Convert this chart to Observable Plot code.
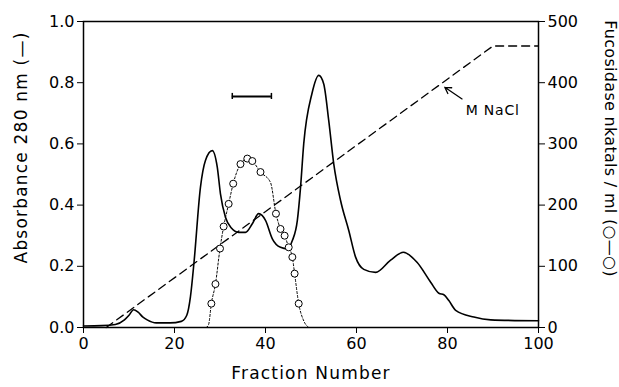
<!DOCTYPE html>
<html>
<head>
<meta charset="utf-8">
<script src="https://cdn.jsdelivr.net/npm/d3@7"></script>
<script src="https://cdn.jsdelivr.net/npm/@observablehq/plot@0.6"></script>
<style>
  body { margin: 0; background: #fff; }
</style>
</head>
<body>
<div id="chart"></div>
<script>
// Absorbance at 280 nm (left axis)
const fractions = [0, 4, 7, 9, 10, 11, 12, 13, 14, 16, 19, 21.5, 22.7, 23.5, 24.3, 25.7, 26.8, 28.3, 29.4, 30.1, 31.2, 32.5, 34.1, 35.6, 37.1, 38.5, 40, 41.5, 43.3, 44.8, 45.9, 47, 47.7, 48.4, 50.2, 51.7, 52.8, 53.9, 55, 56.5, 58.3, 59.8, 61.6, 64.2, 67.5, 70.3, 73.3, 76.3, 78.1, 79.2, 80.3, 81.8, 85.8, 89.5, 100];
const absorbance = [0.005, 0.006, 0.01, 0.025, 0.04, 0.058, 0.05, 0.035, 0.025, 0.015, 0.015, 0.02, 0.04, 0.1, 0.215, 0.458, 0.546, 0.578, 0.524, 0.437, 0.36, 0.325, 0.311, 0.311, 0.339, 0.372, 0.35, 0.29, 0.262, 0.257, 0.284, 0.35, 0.458, 0.6, 0.764, 0.824, 0.796, 0.676, 0.535, 0.415, 0.317, 0.23, 0.19, 0.18, 0.22, 0.246, 0.213, 0.148, 0.112, 0.107, 0.088, 0.056, 0.034, 0.025, 0.022];

// Fucosidase activity, nkatals/ml (right axis)
const fucFractions = [27, 27.5, 28.1, 29, 30, 30.8, 31.9, 32.9, 34.5, 36, 37.1, 38.9, 41.1, 42.3, 43.3, 44.2, 45.1, 45.9, 46.4, 47.3, 48.4, 49.5];
const fucosidase = [0, 5, 39, 71, 129, 165, 202, 235, 267, 276, 272, 254, 237, 186, 161, 150, 131, 115, 88, 39, 11, 0];
const fucCircleIdx = [2, 3, 4, 5, 6, 7, 8, 9, 10, 11, 13, 14, 15, 16, 17, 18, 19];

// NaCl gradient (dashed), in left-axis units
const naclFractions = [5, 90, 100];
const naclLevel = [0, 0.92, 0.92];

// Pooled fractions bar
const poolFractions = [32.7, 41.3];
const poolLevel = 0.755;

// Annotation "M NaCl" with arrow
const naclLabel = {text: "M NaCl", x: 84, y: 0.71};
const naclArrow = {x1: 83.2, y1: 0.747, x2: 79.4, y2: 0.785};

// Ticks
const xTicks = [0, 20, 40, 60, 80, 100];
const leftTicks = [0, 0.2, 0.4, 0.6, 0.8, 1.0];
const rightTicks = [0, 100, 200, 300, 400, 500];
const rightMax = 500;

const absData = fractions.map((f, i) => ({f, a: absorbance[i]}));
const fucData = fucFractions.map((f, i) => ({f, v: fucosidase[i]}));
const fucCircles = fucCircleIdx.map(i => fucData[i]);
const naclData = naclFractions.map((f, i) => ({f, m: naclLevel[i]}));

const rightTitle = "Fucosidase nkatals / ml (\u25cb\u2014\u25cb)";

const chart = Plot.plot({
  width: 619,
  height: 387,
  marginLeft: 83,
  marginRight: 81,
  marginTop: 21,
  marginBottom: 60,
  x: {domain: [0, 100]},
  y: {domain: [0, 1]},
  style: {fontFamily: "DejaVu Sans", fontSize: "16px", color: "#000", background: "#fff"},
  marks: [
    Plot.frame({stroke: "#000", strokeWidth: 1.5}),
    Plot.axisX({ticks: xTicks, tickSize: 6, tickPadding: 4, label: null, tickFormat: d => String(d)}),
    Plot.axisY({ticks: leftTicks, tickSize: 6, tickPadding: 3, label: null, tickFormat: d3.format(".1f")}),
    Plot.axisY({anchor: "right", ticks: rightTicks.map(v => v / rightMax), tickSize: 6, tickPadding: 3, label: null, tickFormat: d => String(Math.round(d * rightMax))}),
    // NaCl gradient
    Plot.line(naclData, {x: "f", y: "m", stroke: "#000", strokeWidth: 1.3, strokeDasharray: "8,5"}),
    // Absorbance
    Plot.line(absData, {x: "f", y: "a", curve: "monotone-x", stroke: "#000", strokeWidth: 1.6}),
    // Fucosidase
    Plot.line(fucData, {x: "f", y: d => d.v / rightMax, curve: "monotone-x", stroke: "#000", strokeWidth: 1, strokeDasharray: "2,2"}),
    Plot.dot(fucCircles, {x: "f", y: d => d.v / rightMax, r: 3.5, fill: "#fff", stroke: "#000", strokeWidth: 1}),
    // Pool bar
    Plot.ruleY([poolLevel], {x1: poolFractions[0], x2: poolFractions[1], stroke: "#000", strokeWidth: 2}),
    Plot.ruleX(poolFractions, {y1: poolLevel - 0.01, y2: poolLevel + 0.01, stroke: "#000", strokeWidth: 1.5}),
    // NaCl label & arrow
    Plot.arrow([naclArrow], {x1: "x1", y1: "y1", x2: "x2", y2: "y2", stroke: "#000", strokeWidth: 1.3, headLength: 8}),
    Plot.text([naclLabel], {x: "x", y: "y", text: "text", textAnchor: "start", fontSize: 14}),
    // Axis titles
    Plot.text(["Fraction Number"], {frameAnchor: "bottom", textAnchor: "middle", dy: 51, fontSize: 17}),
    Plot.text(["Absorbance 280 nm (\u2014)"], {frameAnchor: "left", textAnchor: "middle", rotate: -90, dx: -62, dy: -27, fontSize: 17}),
    Plot.text([rightTitle], {frameAnchor: "right", textAnchor: "middle", rotate: 90, dx: 72, dy: -26, fontSize: 16})
  ]
});
const spacing = {"Fraction Number": "1.2px", "Absorbance 280 nm (\u2014)": "1.2px", "M NaCl": "0.8px"};
spacing[rightTitle] = "0.3px";
d3.select(chart).selectAll("text").each(function() {
  const s = spacing[this.textContent];
  if (s) this.style.letterSpacing = s;
});
document.getElementById("chart").appendChild(chart);
</script>
</body>
</html>
